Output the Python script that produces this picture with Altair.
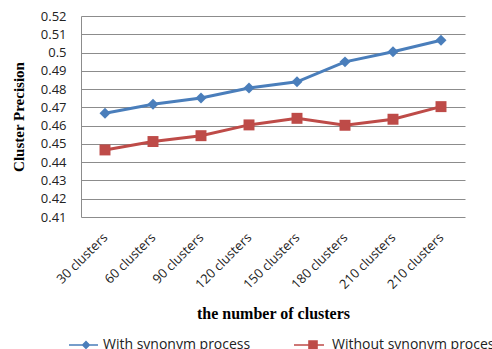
import altair as alt
import pandas as pd

# Category labels along the x axis (the last two share the same text)
categories = [
    "30 clusters", "60 clusters", "90 clusters", "120 clusters",
    "150 clusters", "180 clusters", "210 clusters", "210 clusters",
]
series_names = ["With synonym process", "Without synonym process"]
with_synonym = [0.4668, 0.4717, 0.4751, 0.4806, 0.4840, 0.4949, 0.5004, 0.5067]
without_synonym = [0.4467, 0.4513, 0.4545, 0.4604, 0.4640, 0.4602, 0.4635, 0.4704]
y_ticks = [0.41, 0.42, 0.43, 0.44, 0.45, 0.46, 0.47, 0.48, 0.49, 0.50, 0.51, 0.52]

colors = ["#4A7EBB", "#BE4B48"]

rows = []
for name, values in zip(series_names, [with_synonym, without_synonym]):
    for i, v in enumerate(values):
        rows.append({"pos": i, "series": name, "value": v})
df = pd.DataFrame(rows)

label_array = "[" + ",".join("'%s'" % c for c in categories) + "]"

# Legend glyphs: a short line with the series marker on it
diamond_glyph = ("M-4.25,-0.19 H3 V0.19 H-4.25 Z "
                 "M0,-1.1 L1.1,0 L0,1.1 L-1.1,0 Z")
square_glyph = ("M-4.75,-0.19 H2.75 V0.19 H-4.75 Z "
                "M-1.2,-1.2 H1.2 V1.2 H-1.2 Z")
glyphs = [diamond_glyph, square_glyph]
legend_x = [-2, 225]
label_gap = [10, 12]

color_scale = alt.Scale(domain=series_names, range=colors)

x_enc = alt.X(
    "pos:O",
    title="the number of clusters",
    axis=alt.Axis(
        labelExpr=label_array + "[datum.value]",
        labelAngle=-45,
        labelAlign="right",
        labelBaseline="middle",
        labelPadding=18,
        labelFont="Open Sans",
        labelFontSize=13,
        labelColor="#222222",
        domain=False,
        ticks=False,
        grid=False,
        titleFont="Liberation Serif",
        titleFontSize=16,
        titleFontWeight="bold",
        titleColor="#000000",
        titlePadding=14,
    ),
)
y_enc = alt.Y(
    "value:Q",
    title="Cluster Precision",
    scale=alt.Scale(domain=[0.41, 0.52], nice=False, zero=False),
    axis=alt.Axis(
        values=y_ticks,
        format=".2~f",
        labelFont="Open Sans",
        labelFontSize=13,
        labelColor="#222222",
        labelPadding=15,
        ticks=False,
        domain=True,
        domainColor="#8C8C8C",
        gridColor="#8C8C8C",
        gridWidth=1,
        titleFont="Liberation Serif",
        titleFontSize=15,
        titleFontWeight="bold",
        titleColor="#000000",
        titlePadding=14,
    ),
)

lines = alt.Chart(df).mark_line(strokeWidth=3).encode(
    x=x_enc,
    y=y_enc,
    color=alt.Color("series:N", scale=color_scale, legend=None),
)

points = alt.Chart(df).mark_point(filled=True, size=120, opacity=1).encode(
    x=x_enc,
    y=y_enc,
    shape=alt.Shape(
        "series:N",
        scale=alt.Scale(domain=series_names, range=["diamond", "square"]),
        legend=None,
    ),
    color=alt.Color("series:N", scale=color_scale, legend=None),
)


def key_layer(idx):
    """Legend-only layer for one series: no rows are drawn, only its key entry."""
    name = series_names[idx]
    return alt.Chart(df).transform_filter("false").mark_point(filled=True).encode(
        x=x_enc,
        y=y_enc,
        color=alt.value(colors[idx]),
        shape=alt.Shape(
            "series:N",
            scale=alt.Scale(domain=[name], range=[glyphs[idx]]),
            legend=alt.Legend(
                title=None,
                orient="none",
                direction="horizontal",
                legendX=legend_x[idx],
                legendY=322,
                padding=0,
                symbolSize=64,
                symbolOpacity=1,
                symbolStrokeWidth=0,
                labelOffset=label_gap[idx],
                labelFont="Open Sans",
                labelFontSize=14,
                labelColor="#222222",
                labelLimit=0,
            ),
        ),
    )


chart = (
    alt.layer(lines, points, key_layer(0), key_layer(1))
    .resolve_scale(shape="independent")
    .properties(
        width=384,
        height=201,
        autosize=alt.AutoSizeParams(type="none"),
        padding={"left": 81, "top": 16, "right": 27, "bottom": 132},
        background="#FFFFFF",
    )
    .configure_view(stroke=None)
)

chart.save("out.html", embed_options={"renderer": "svg", "actions": False})
